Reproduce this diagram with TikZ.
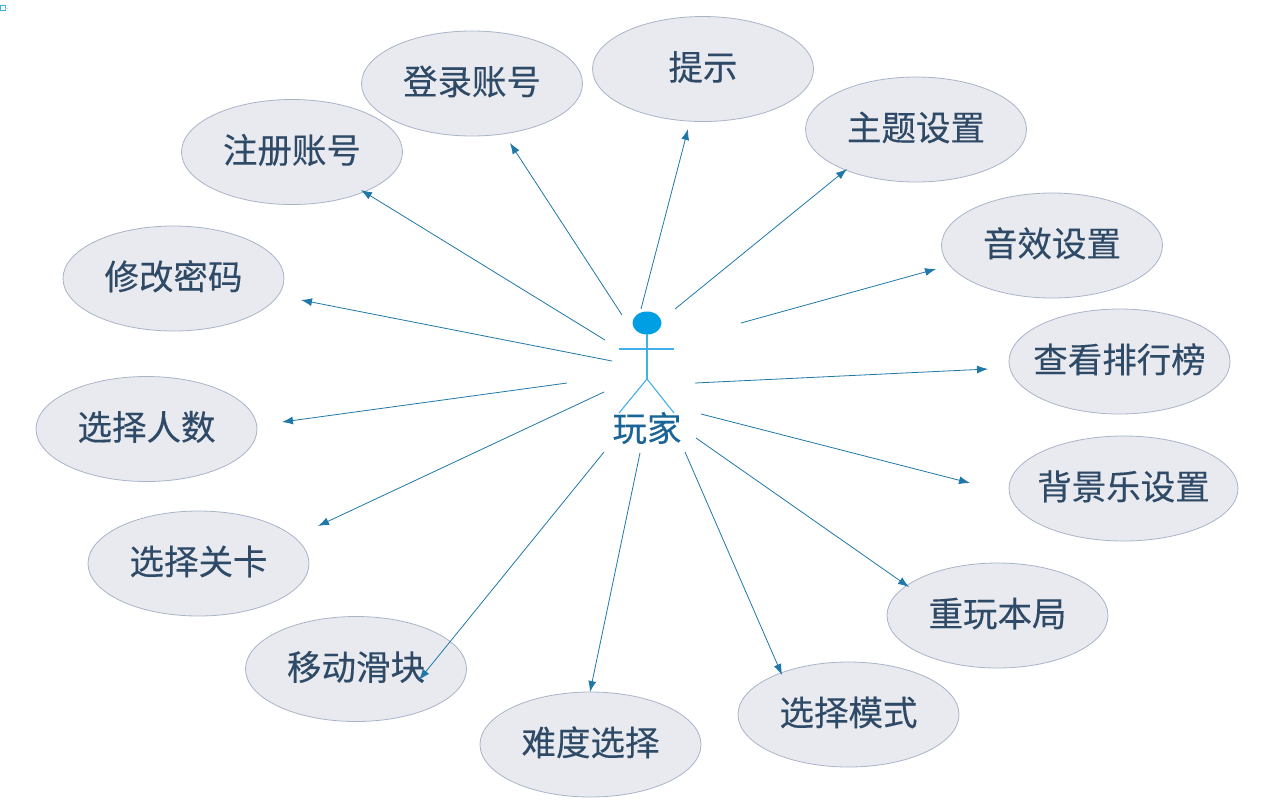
\documentclass[tikz,border=0pt]{standalone}
\usepackage{fontspec}
\setmainfont{Noto Sans CJK SC}[FakeBold=0.25]
\usetikzlibrary{arrows.meta,shapes.geometric}
\definecolor{ucfill}{HTML}{E8EAF0}
\definecolor{ucline}{HTML}{A9B4C8}
\definecolor{uctext}{HTML}{2F4A66}
\definecolor{arrowc}{HTML}{1F78A8}
\definecolor{actorc}{HTML}{3FB0EC}
\definecolor{headc}{HTML}{009FE3}
\definecolor{actortext}{HTML}{1A6496}
\newcommand{\uctxt}[1]{\raisebox{-11pt}[0pt][0pt]{\makebox[0pt]{#1}}}
\tikzset{
  usecase/.style={ellipse,draw=ucline,fill=ucfill,line width=0.8pt,minimum width=221pt,minimum height=105pt,inner sep=0pt,text=uctext,font=\fontsize{34.5}{40}\selectfont,text depth=0pt,text height=0pt},
  conn/.style={draw=arrowc,line width=0.8pt,-{Latex[length=11pt,width=8pt]}},
  limb/.style={draw=actorc,line width=1.1pt}
}
\begin{document}
\begin{tikzpicture}[x=1pt,y=-1pt]
\useasboundingbox (0,0) rectangle (1268,807);
\fill[white] (0,0) rectangle (1268,807);
% stray mark in the corner
\draw[draw=actorc,line width=1pt] (0,5.5) rectangle (5,10.5);
\draw[draw=actorc!40,line width=1pt] (5,8) -- (8,8);
% use cases
\node[usecase] (zhuce) at (292,152) {\uctxt{注册账号}};
\node[usecase] (denglu) at (472,83.5) {\uctxt{登录账号}};
\node[usecase] (tishi) at (703,69) {\uctxt{提示}};
\node[usecase] (zhuti) at (916,129.5) {\uctxt{主题设置}};
\node[usecase] (yinxiao) at (1052,245.5) {\uctxt{音效设置}};
\node[usecase] (paihang) at (1119.5,361.5) {\uctxt{查看排行榜}};
\node[usecase,minimum width=229pt] (beijing) at (1123.5,488.5) {\uctxt{背景乐设置}};
\node[usecase] (chongwan) at (997.5,615.5) {\uctxt{重玩本局}};
\node[usecase] (moshi) at (848.5,714.5) {\uctxt{选择模式}};
\node[usecase] (nandu) at (590.5,744.5) {\uctxt{难度选择}};
\node[usecase] (yidong) at (356,669) {\uctxt{移动滑块}};
\node[usecase] (guanka) at (198.5,563.5) {\uctxt{选择关卡}};
\node[usecase] (renshu) at (146.5,429) {\uctxt{选择人数}};
\node[usecase] (xiugai) at (173.5,278.5) {\uctxt{修改密码}};
% actor
\node[ellipse,fill=headc,minimum width=29pt,minimum height=23pt,inner sep=0pt] (head) at (647,323) {};
\coordinate (neck) at (647,334);
\coordinate (hip) at (647,379);
\coordinate (armL) at (619,349);
\coordinate (armR) at (674,349);
\coordinate (footL) at (619,413);
\coordinate (footR) at (674,413);
\draw[limb] (neck) -- (hip);
\draw[limb] (armL) -- (armR);
\draw[limb] (footL) -- (hip) -- (footR);
\node[text=actortext,font=\fontsize{34.5}{40}\selectfont,inner sep=0pt] (wanjia) at (647,428) {玩家};
% connector ends
\coordinate (s1) at (605,340);  \coordinate (e1) at (361,190);
\coordinate (s2) at (622,315);  \coordinate (e2) at (510,143);
\coordinate (s3) at (641,309);  \coordinate (e3) at (688,129);
\coordinate (s4) at (675,309);  \coordinate (e4) at (847,169);
\coordinate (s5) at (741,323);  \coordinate (e5) at (936,269);
\coordinate (s6) at (695,383);  \coordinate (e6) at (988,369);
\coordinate (s7) at (701,414);  \coordinate (e7) at (970,483);
\coordinate (s8) at (696,438);  \coordinate (e8) at (909,587);
\coordinate (s9) at (685,452);  \coordinate (e9) at (782,675);
\coordinate (s10) at (640,453); \coordinate (e10) at (590,692);
\coordinate (s11) at (604,452); \coordinate (e11) at (419,680);
\coordinate (s12) at (604,392); \coordinate (e12) at (318,526);
\coordinate (s13) at (567,383); \coordinate (e13) at (282,422);
\coordinate (s14) at (612,361); \coordinate (e14) at (301,300);
\foreach \i in {1,...,14} \draw[conn] (s\i) -- (e\i);
\end{tikzpicture}
\end{document}
